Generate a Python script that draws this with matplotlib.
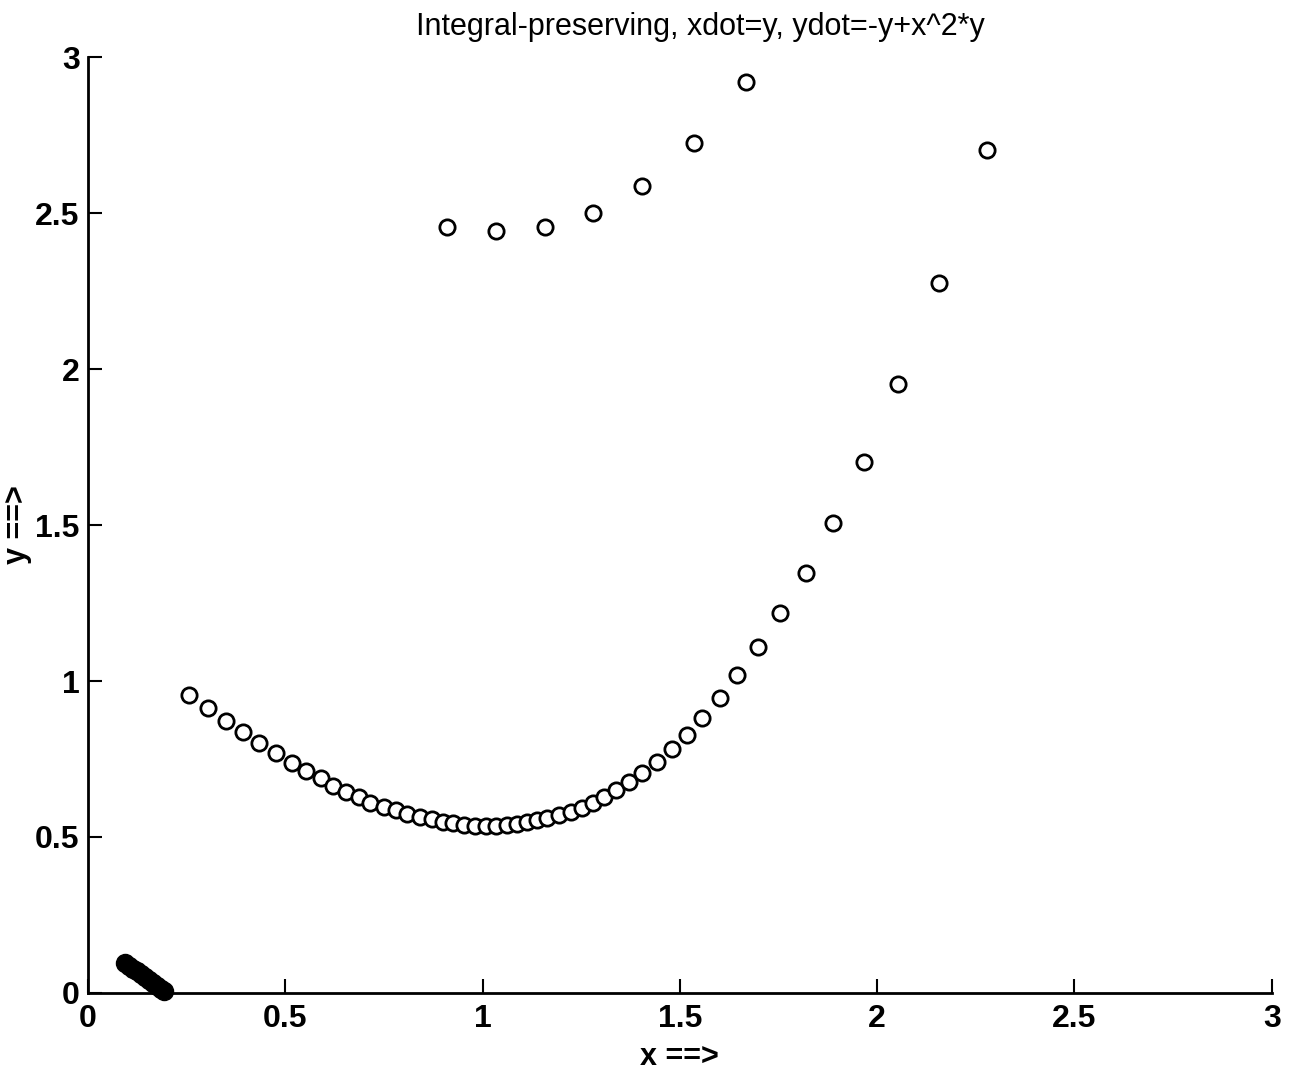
import matplotlib.pyplot as plt

# lower branch (open circles)
low_x = [0.256, 0.305, 0.351, 0.392, 0.434, 0.476, 0.516, 0.552, 0.590, 0.622,
         0.653, 0.687, 0.716, 0.750, 0.780, 0.809, 0.841, 0.871, 0.900, 0.926,
         0.953, 0.981, 1.008, 1.035, 1.061, 1.088, 1.113, 1.138, 1.164, 1.194,
         1.223, 1.251, 1.279, 1.307, 1.338, 1.372, 1.405, 1.441, 1.479, 1.517,
         1.557, 1.601, 1.646, 1.698, 1.753, 1.819, 1.888, 1.966, 2.052, 2.156,
         2.278]
low_y = [0.955, 0.914, 0.873, 0.836, 0.800, 0.768, 0.738, 0.712, 0.688, 0.665,
         0.643, 0.627, 0.610, 0.597, 0.587, 0.574, 0.565, 0.557, 0.549, 0.544,
         0.538, 0.536, 0.535, 0.536, 0.539, 0.542, 0.547, 0.554, 0.562, 0.572,
         0.579, 0.592, 0.608, 0.629, 0.651, 0.675, 0.706, 0.739, 0.782, 0.827,
         0.880, 0.945, 1.019, 1.109, 1.218, 1.346, 1.506, 1.702, 1.952, 2.276,
         2.702]

# upper branch (open circles)
up_x = [0.910, 1.034, 1.158, 1.280, 1.404, 1.535, 1.667]
up_y = [2.455, 2.442, 2.455, 2.500, 2.587, 2.724, 2.920]

# filled cluster near the origin
fill_x = [0.095, 0.105, 0.115, 0.125, 0.135, 0.145, 0.155, 0.165, 0.175, 0.185, 0.192]
fill_y = [0.095, 0.087, 0.078, 0.069, 0.060, 0.051, 0.042, 0.033, 0.023, 0.013, 0.005]

ticks = [0, 0.5, 1, 1.5, 2, 2.5, 3]
tick_labels = ['0', '0.5', '1', '1.5', '2', '2.5', '3']

plt.rcParams['font.family'] = ['Liberation Sans', 'DejaVu Sans']

fig = plt.figure(figsize=(12.99, 10.72), dpi=100)
ax = fig.add_axes([0.0677, 0.0737, 0.9113, 0.8731])

ax.plot(low_x, low_y, 'o', mfc='white', mec='black', mew=2.0, ms=11, clip_on=False)
ax.plot(up_x, up_y, 'o', mfc='white', mec='black', mew=2.0, ms=11, clip_on=False)
ax.plot(fill_x, fill_y, 'o', color='black', ms=13, clip_on=False)

ax.set_xlim(0, 3)
ax.set_ylim(0, 3)
ax.set_xticks(ticks)
ax.set_xticklabels(tick_labels)
ax.set_yticks(ticks)
ax.set_yticklabels(tick_labels)
ax.tick_params(direction='in', length=10, width=1.5, labelsize=23)
ax.tick_params(axis='x', pad=8)
ax.tick_params(axis='y', pad=6)
for lab in ax.get_xticklabels() + ax.get_yticklabels():
    lab.set_fontweight('bold')

ax.spines['top'].set_visible(False)
ax.spines['right'].set_visible(False)
ax.spines['left'].set_linewidth(2)
ax.spines['bottom'].set_linewidth(2)

ax.set_title('Integral-preserving, xdot=y, ydot=-y+x^2*y', fontsize=22, pad=16, x=0.517)
ax.set_xlabel('x ==>', fontsize=22, fontweight='bold', labelpad=6)
ax.set_ylabel('y ==>', fontsize=22, fontweight='bold', labelpad=2)

fig.savefig('out.png', dpi=100)
